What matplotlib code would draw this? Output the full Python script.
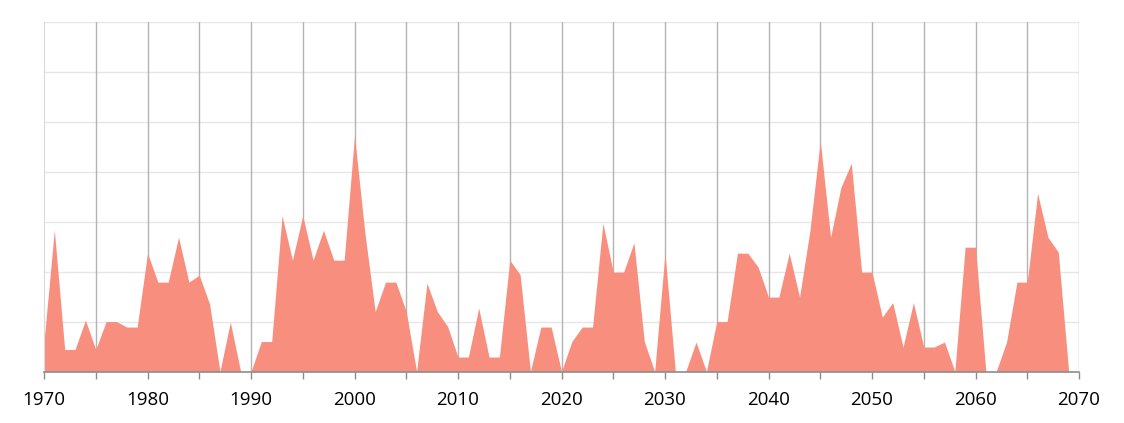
import numpy as np
import matplotlib
matplotlib.use("Agg")
import matplotlib.pyplot as plt
from matplotlib.ticker import MultipleLocator

years = list(range(1970, 2070))
values = [
    0.6, 2.83, 0.44, 0.44, 1.03, 0.44, 1.0, 1.0, 0.89, 0.89,      # 1970s
    2.37, 1.79, 1.79, 2.69, 1.79, 1.93, 1.35, 0.0, 0.99, 0.0,     # 1980s
    0.0, 0.6, 0.6, 3.12, 2.23, 3.12, 2.23, 2.83, 2.23, 2.23,      # 1990s
    4.72, 2.78, 1.2, 1.79, 1.79, 1.2, 0.0, 1.77, 1.2, 0.9,        # 2000s
    0.29, 0.29, 1.27, 0.29, 0.29, 2.23, 1.94, 0.0, 0.89, 0.89,    # 2010s
    0.0, 0.6, 0.89, 0.89, 2.97, 1.99, 1.99, 2.58, 0.6, 0.0,       # 2020s
    2.37, 0.0, 0.0, 0.59, 0.0, 1.0, 1.0, 2.37, 2.37, 2.09,        # 2030s
    1.49, 1.49, 2.37, 1.49, 2.82, 4.62, 2.69, 3.69, 4.17, 1.99,   # 2040s
    1.99, 1.09, 1.38, 0.49, 1.38, 0.49, 0.49, 0.59, 0.0, 2.49,    # 2050s
    2.49, 0.0, 0.0, 0.59, 1.79, 1.79, 3.57, 2.69, 2.39, 0.0,      # 2060s
]

fig = plt.figure(figsize=(11.24, 4.23), dpi=100)
ax = fig.add_axes([44 / 1124, 1 - 371.5 / 423, (1079 - 44) / 1124, (371.5 - 22) / 423])

ax.fill_between(years, values, 0, color="#f78e7e", linewidth=0, zorder=2)

ax.set_xlim(1970, 2070)
ax.set_ylim(0, 7)

# horizontal light grid, vertical darker grid every 5 years
for y in range(1, 8):
    ax.axhline(y, color="#e6e6e6", linewidth=1, zorder=1)
for x in range(1975, 2071, 5):
    ax.axvline(x, color="#b3b3b3", linewidth=1, zorder=1)

ax.xaxis.set_major_locator(MultipleLocator(10))
ax.xaxis.set_minor_locator(MultipleLocator(5))
ax.set_yticks([])
ax.tick_params(axis="x", which="both", length=5, width=1, color="#8c8c8c",
               labelsize=13.5, pad=9, labelcolor="#000000")
for lab in ax.get_xticklabels():
    lab.set_fontfamily("Open Sans")

for s in ["top", "right"]:
    ax.spines[s].set_visible(False)
ax.spines["left"].set_color("#d9d9d9")
ax.spines["bottom"].set_color("#8c8c8c")
ax.spines["bottom"].set_linewidth(1.2)
ax.spines["bottom"].set_zorder(3)

fig.savefig("out.png", dpi=100)
